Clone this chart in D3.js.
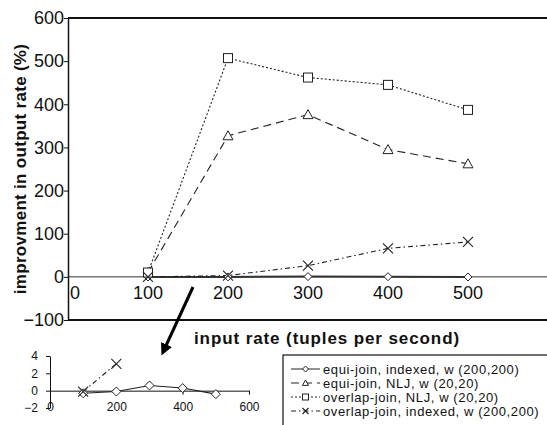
<!DOCTYPE html>
<html><head><meta charset="utf-8">
<script src="https://cdn.jsdelivr.net/npm/d3@7"></script>
<style>
body{margin:0;background:#fff;}
svg text{font-family:"Liberation Sans",Arial,sans-serif;}
</style></head>
<body><svg id="c" width="547" height="425"></svg>
<script>
const inputRates = [100, 200, 300, 400, 500];
const equiIndexed = [-0.3, -0.1, 0.6, 0.3, -0.4];
const equiNLJ = [10, 327, 376, 295, 262];
const overlapNLJ = [10, 507, 462, 445, 387];
const overlapIndexed = [-0.1, 3.1, 26, 66, 81];
const yTicks = [-100, 0, 100, 200, 300, 400, 500, 600];
const xTicks = [0, 100, 200, 300, 400, 500];
const insetYTicks = [-2, 0, 2, 4];
const insetXTicks = [0, 200, 400, 600];
const seriesNames = ["equi-join, indexed, w (200,200)", "equi-join, NLJ, w (20,20)", "overlap-join, NLJ, w (20,20)", "overlap-join, indexed, w (200,200)"];

const series = [
  {name: seriesNames[0], vals: equiIndexed, dash: null, sym: "diamond"},
  {name: seriesNames[1], vals: equiNLJ, dash: "8,5", sym: "triangle"},
  {name: seriesNames[2], vals: overlapNLJ, dash: "2,2", sym: "square"},
  {name: seriesNames[3], vals: overlapIndexed, dash: "5,3,1.5,3", sym: "cross"}
];

const svg = d3.select("#c");
const ink = "#222";
const FF = '"Liberation Sans",Arial,sans-serif';

function drawMarker(g, sym, cx, cy, s) {
  if (sym === "diamond") {
    g.append("path").attr("d", `M${cx},${cy-s}L${cx+s},${cy}L${cx},${cy+s}L${cx-s},${cy}Z`)
      .attr("fill", "#fff").attr("stroke", ink).attr("stroke-width", 1);
  } else if (sym === "triangle") {
    g.append("path").attr("d", `M${cx},${cy-s}L${cx+s},${cy+s*0.8}L${cx-s},${cy+s*0.8}Z`)
      .attr("fill", "#fff").attr("stroke", ink).attr("stroke-width", 1);
  } else if (sym === "square") {
    g.append("rect").attr("x", cx-s).attr("y", cy-s).attr("width", 2*s).attr("height", 2*s)
      .attr("fill", "#fff").attr("stroke", ink).attr("stroke-width", 1);
  } else {
    g.append("path").attr("d", `M${cx-s},${cy-s}L${cx+s},${cy+s}M${cx-s},${cy+s}L${cx+s},${cy-s}`)
      .attr("stroke", ink).attr("stroke-width", 1.1);
  }
}
const msize = {diamond: 4, triangle: 5, square: 4.5, cross: 5};

// ---------- main chart ----------
const x = d3.scaleLinear().domain([0, 600]).range([68, 548]);
const y = d3.scaleLinear().domain([-100, 600]).range([320, 18]);

svg.append("line").attr("x1", 68).attr("x2", 547).attr("y1", y(600)).attr("y2", y(600)).attr("stroke", "#111").attr("stroke-width", 2);
svg.append("line").attr("x1", 68).attr("x2", 547).attr("y1", y(-100)).attr("y2", y(-100)).attr("stroke", "#111").attr("stroke-width", 2);
svg.append("line").attr("x1", 68).attr("x2", 547).attr("y1", y(0)).attr("y2", y(0)).attr("stroke", "#777").attr("stroke-width", 1.5);

const yAxis = svg.append("g").attr("transform", "translate(68,0)")
  .call(d3.axisLeft(y).tickValues(yTicks).tickSize(4).tickSizeOuter(0).tickPadding(0));
yAxis.select(".domain").attr("stroke", "#111").attr("stroke-width", 1.5);
yAxis.selectAll("line").attr("stroke", "#111");
yAxis.selectAll("text").attr("font-size", 18).attr("fill", "#111").style("font-family", FF);

svg.append("g").selectAll("text").data(xTicks).join("text")
  .attr("x", d => d === 0 ? x(d) + 7 : x(d))
  .attr("y", 299).attr("text-anchor", "middle").attr("font-size", 18).attr("fill", "#111")
  .text(d => d);

const line = d3.line().x((d, i) => x(inputRates[i])).y(d => y(d));
series.forEach(s => {
  svg.append("path").datum(s.vals).attr("d", line).attr("fill", "none")
    .attr("stroke", s.sym === "diamond" ? "#333" : ink).attr("stroke-width", s.sym === "diamond" ? 2 : 1.1)
    .attr("stroke-dasharray", s.dash);
});
series.forEach(s => {
  const g = svg.append("g");
  s.vals.forEach((v, i) => drawMarker(g, s.sym, x(inputRates[i]), y(v), msize[s.sym]));
});

svg.append("text").attr("transform", "translate(26,169) rotate(-90)").attr("text-anchor", "middle")
  .attr("font-size", 17).attr("font-weight", "bold").attr("fill", "#111").attr("letter-spacing", 0.3)
  .text("improvment in output rate (%)");
svg.append("text").attr("x", 327).attr("y", 344).attr("text-anchor", "middle")
  .attr("font-size", 17).attr("font-weight", "bold").attr("fill", "#111").attr("letter-spacing", 0.9)
  .text("input rate (tuples per second)");

// arrow
svg.append("defs").append("marker").attr("id", "ah").attr("viewBox", "0 0 10 10").attr("refX", 5).attr("refY", 5)
  .attr("markerWidth", 4).attr("markerHeight", 4).attr("orient", "auto")
  .append("path").attr("d", "M0,0L10,5L0,10Z").attr("fill", "#000");
svg.append("line").attr("x1", 193).attr("y1", 287).attr("x2", 164).attr("y2", 350)
  .attr("stroke", "#000").attr("stroke-width", 3).attr("marker-end", "url(#ah)");

// ---------- inset ----------
const ix = d3.scaleLinear().domain([0, 600]).range([50, 249]);
const iy = d3.scaleLinear().domain([-2, 4]).range([408, 356]);
const iyAxis = svg.append("g").attr("transform", "translate(50,0)")
  .call(d3.axisLeft(iy).tickValues(insetYTicks).tickSize(4).tickSizeOuter(0).tickPadding(8).tickFormat(d3.format("d")));
iyAxis.selectAll("text").attr("font-size", 12).attr("fill", "#111").style("font-family", FF);
iyAxis.selectAll("line,path").attr("stroke", "#111");
const ixAxis = svg.append("g").attr("transform", `translate(0,${iy(0)})`)
  .call(d3.axisBottom(ix).tickValues(insetXTicks).tickSize(4).tickSizeOuter(0).tickPadding(8).tickFormat(d3.format("d")));
ixAxis.selectAll("text").attr("font-size", 12).attr("fill", "#111").style("font-family", FF);
ixAxis.selectAll("line,path").attr("stroke", "#111");

const inRange = v => v >= -2 && v <= 4;
[series[0], series[3]].forEach(s => {
  const pts = s.vals.map((v, i) => [inputRates[i], v]).filter(p => inRange(p[1]));
  svg.append("path").datum(pts).attr("d", d3.line().x(p => ix(p[0])).y(p => iy(p[1])))
    .attr("fill", "none").attr("stroke", ink).attr("stroke-width", 1.1).attr("stroke-dasharray", s.dash);
  const g = svg.append("g");
  pts.forEach(p => drawMarker(g, s.sym, ix(p[0]), iy(p[1]), s.sym === "diamond" ? 4.5 : 5));
});

// ---------- legend ----------
svg.append("rect").attr("x", 283).attr("y", 355).attr("width", 300).attr("height", 100)
  .attr("fill", "#fff").attr("stroke", "#111").attr("stroke-width", 1.2);
const rowY = [369, 383, 397, 411];
series.forEach((s, i) => {
  const g = svg.append("g");
  g.append("line").attr("x1", 291).attr("x2", 320).attr("y1", rowY[i]).attr("y2", rowY[i])
    .attr("stroke", ink).attr("stroke-width", 1).attr("stroke-dasharray", s.dash);
  drawMarker(g, s.sym, 305.5, rowY[i], 3);
  g.append("text").attr("x", 323).attr("y", rowY[i] + 4.5).attr("font-size", 13).attr("letter-spacing", 0.6)
    .attr("fill", "#111").text(s.name);
});
</script></body></html>
